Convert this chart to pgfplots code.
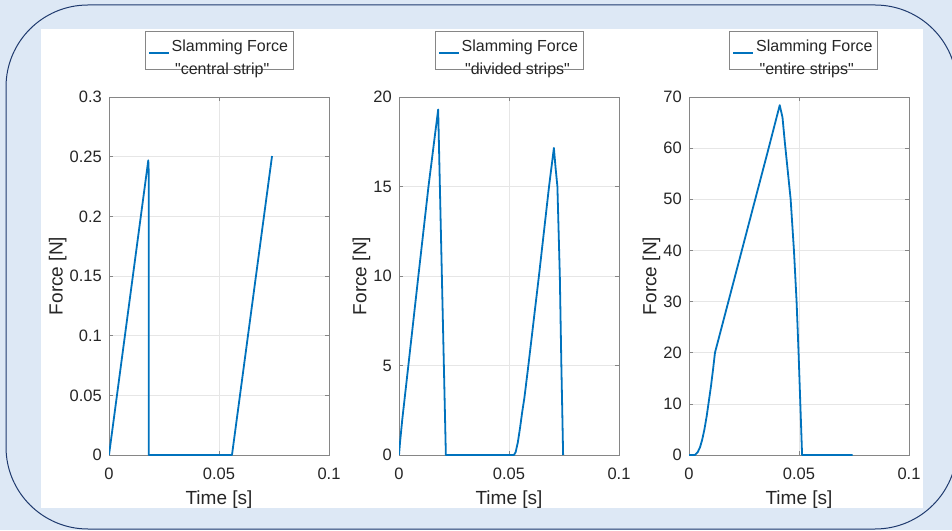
\documentclass[border=0pt]{standalone}
\usepackage{pgfplots}
\pgfplotsset{compat=1.18}
\usepackage{fontspec}
\setmainfont{Liberation Sans}[Ligatures=TeXOff]
\definecolor{bgblue}{HTML}{DDE8F5}
\definecolor{navy}{HTML}{1F3A6E}
\definecolor{mblue}{HTML}{0072BD}
\definecolor{txt}{HTML}{262626}
\definecolor{axgray}{HTML}{868686}
\definecolor{gridgray}{HTML}{E6E6E6}
\pgfplotsset{myax/.style={
 width=220pt,height=358pt,scale only axis,
 xmin=0,xmax=0.1,ymin=0,
 xtick={0,0.05,0.1},
 grid=major, grid style={color=gridgray,line width=0.5pt},
 axis line style={color=axgray,line width=0.6pt},
 every tick/.style={color=axgray,line width=0.6pt},
 tick align=inside, major tick length=4pt,
 ticklabel style={font=\fontsize{16.5}{20}\selectfont,color=txt},
 xticklabel style={anchor=base,yshift=-24pt,inner sep=0pt},
 yticklabel style={anchor=east,inner sep=0pt,xshift=-7pt},
 label style={font=\fontsize{19}{23}\selectfont,color=txt},
 xlabel={Time [s]}, ylabel={Force [N]},
 xlabel style={at={(axis description cs:0.5,0)},anchor=base,yshift=-49pt,inner sep=0pt},
 ylabel style={anchor=south,inner sep=3pt},
 scaled ticks=false,
 /pgf/number format/assume math mode=true,
 /pgf/number format/fixed,
 legend style={at={(0.5,1)},anchor=south,yshift=27pt,draw=axgray,line width=0.6pt,
   font=\fontsize{16}{23}\selectfont,text=txt,inner xsep=3pt,inner ysep=3pt},
 legend image code/.code={\draw[#1,line width=1.8pt] (0pt,-3pt) -- (20pt,-3pt);},
 no markers,
 cycle list={{mblue}},
 every axis plot/.append style={line width=1.8pt,line join=round},
}}
\begin{document}
\begin{tikzpicture}
\useasboundingbox (0,0) rectangle (952pt,530pt);
\fill[bgblue] (0,0) rectangle (952pt,530pt);
\begin{scope}
\clip (0,0) rectangle (952pt,530pt);
\draw[navy,line width=1pt,rounded corners=82pt] (6pt,1pt) rectangle (957pt,525pt);
\end{scope}
\fill[white] (41pt,22pt) rectangle (923pt,501pt);

\begin{axis}[myax, at={(109pt,75pt)}, ymax=0.3, ytick={0,0.05,0.1,0.15,0.2,0.25,0.3}]
\addplot coordinates {(0,0) (0.01786,0.247) (0.0181,0.235) (0.0181,0) (0.0559,0) (0.0741,0.2505)};
\addlegendentry{\begin{tabular}{@{}l@{}}Slamming Force\\\hspace*{3.5pt}"central strip"\end{tabular}}
\end{axis}

\begin{axis}[myax, at={(399pt,75pt)}, ymax=20, ytick={0,5,10,15,20}]
\addplot coordinates {(0,0) (0.0005,0.75) (0.0015,2.0) (0.00425,5) (0.0088,10) (0.0134,15) (0.0178,19.3) (0.0213,0) (0.0522,0) (0.053,0.15) (0.054,0.7) (0.055,1.5) (0.056,2.4) (0.057,3.2) (0.0588,5) (0.0636,10) (0.0682,15) (0.0704,17.15) (0.0712,16) (0.0720,15) (0.0731,10) (0.0738,5) (0.0746,0)};
\addlegendentry{\begin{tabular}{@{}l@{}}Slamming Force\\\hspace*{3.5pt}"divided strips"\end{tabular}}
\end{axis}

\begin{axis}[myax, at={(689pt,75pt)}, ymax=70, ytick={0,10,20,30,40,50,60,70}, legend style={xshift=4.5pt}]
\addplot coordinates {(0,0) (0.0027,0) (0.004,0.6) (0.005,1.5) (0.006,3) (0.007,5) (0.008,7.5) (0.009,10.5) (0.010,13.5) (0.011,17) (0.0118,20) (0.0179,30) (0.0240,40) (0.0301,50) (0.0362,60) (0.04124,68.4) (0.0425,66) (0.0435,61.4) (0.0462,50) (0.0477,40) (0.0489,30) (0.0498,20) (0.0506,10) (0.0514,0) (0.0744,0)};
\addlegendentry{\begin{tabular}{@{}l@{}}Slamming Force\\\hspace*{3.5pt}"entire strips"\end{tabular}}
\end{axis}
\end{tikzpicture}
\end{document}
